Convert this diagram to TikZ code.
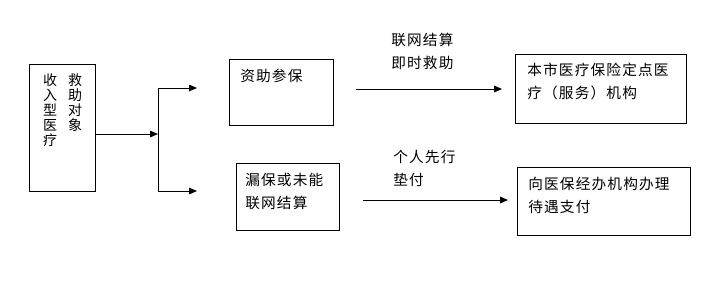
\documentclass[tikz,border=0pt]{standalone}
\usepackage{fontspec}
\setmainfont{Liberation Sans}
\newfontfamily\cjk[LetterSpace=8]{Noto Sans CJK SC}
\usetikzlibrary{arrows.meta, positioning}

\begin{document}
\begin{tikzpicture}[
        x=0.75pt, y=-0.75pt,
        font=\cjk\fontsize{11}{17.25}\selectfont,
        box_node/.style={
            rectangle,
            draw=black,
            line width=0.75pt,
            inner sep=0pt
        },
        txt_node/.style={
            anchor=north west,
            align=left,
            inner sep=0pt
        },
        vtxt_node/.style={
            anchor=north,
            align=center,
            inner sep=0pt,
            font=\cjk\fontsize{10.5}{11.25}\selectfont
        },
        arrow/.style={
            -{Triangle[length=6pt, width=5pt]},
            line width=0.75pt
        }
    ]
    \useasboundingbox (0,0) rectangle (712,287);

    % Target group (Left)
    \node[box_node, minimum width=49.5pt, minimum height=95.25pt] (src) at (62,127.5) {};
    \node[vtxt_node] (srcA) at (50,73) {收\\入\\型\\医\\疗};
    \node[vtxt_node] (srcB) at (75,73) {救\\助\\对\\象};

    % Upper branch
    \node[box_node, minimum width=78pt, minimum height=49.5pt] (aid) at (281,92) {};
    \node[txt_node] (aidT) at (240,69) {资助参保};
    \node[box_node, minimum width=128.25pt, minimum height=51.75pt] (hosp) at (600.5,88.5) {};
    \node[txt_node] (hospT) at (527,63) {本市医疗保险定点医\\疗（服务）机构};
    \node[txt_node] (netL) at (391,33) {联网结算\\即时救助};

    % Lower branch
    \node[box_node, minimum width=77.25pt, minimum height=50.25pt] (miss) at (287.5,196.5) {};
    \node[txt_node] (missT) at (245,173) {漏保或未能\\联网结算};
    \node[box_node, minimum width=129.75pt, minimum height=51pt] (office) at (603.5,201) {};
    \node[txt_node] (officeT) at (528,177) {向医保经办机构办理\\待遇支付};
    \node[txt_node] (payL) at (393,150) {个人先行\\垫付};

    % Connector points
    \coordinate (split) at (158,134);
    \coordinate (brTop) at (158,88);
    \coordinate (brBot) at (158,191);
    \coordinate (tipTop) at (197,88);
    \coordinate (tipBot) at (197,191);
    \coordinate (upA) at (356,89);
    \coordinate (upB) at (502,89);
    \coordinate (loA) at (363,200);
    \coordinate (loB) at (508,200);

    % Arrows
    \draw[arrow] (src.east |- split) -- (split);
    \draw[line width=0.75pt] (brTop) -- (brBot);
    \draw[arrow] (brTop) -- (tipTop);
    \draw[arrow] (brBot) -- (tipBot);
    \draw[arrow] (upA) -- (upB);
    \draw[arrow] (loA) -- (loB);

\end{tikzpicture}
\end{document}
